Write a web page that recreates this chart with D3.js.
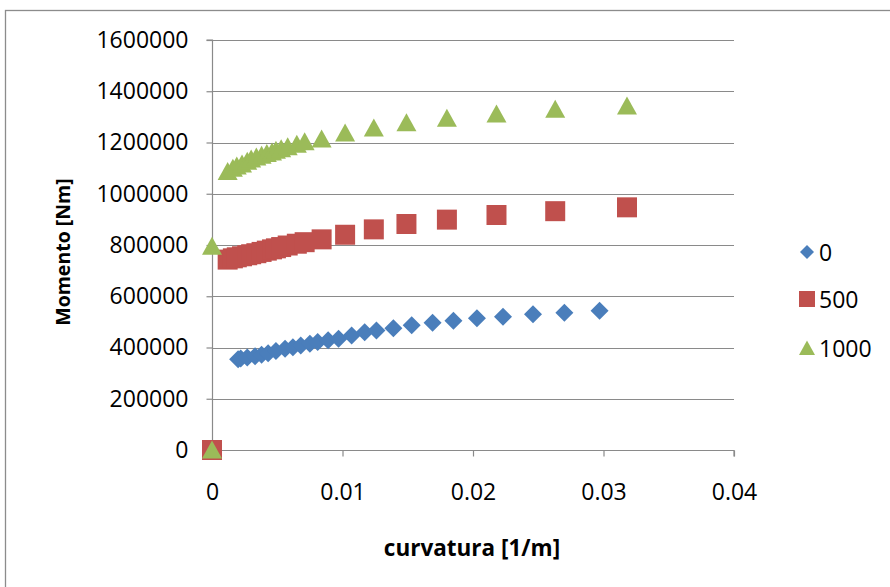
<!DOCTYPE html>
<html><head><meta charset="utf-8">
<script src="https://cdn.jsdelivr.net/npm/d3@7"></script>
<style>
html,body{margin:0;padding:0;background:#fff;}
svg text{font-family:"Open Sans","Noto Sans",sans-serif;fill:#000;}
</style></head>
<body>
<div id="chart"></div>
<script>
// ---- data ----
const seriesNames = ["0", "500", "1000"];
const seriesColors = ["#4A7EBB", "#C0504D", "#9BBB59"];
const seriesShapes = ["diamond", "square", "triangle"];

const curv0 = [0.0020,0.0022,0.0027,0.0033,0.0038,0.0043,0.0049,0.0056,0.0062,0.0068,0.0075,0.0081,0.0089,0.0097,0.0107,0.0117,0.0126,0.0139,0.0153,0.0169,0.0185,0.0203,0.0223,0.0246,0.0270,0.0297];
const mom0  = [354000,357000,361000,366000,372000,378000,386000,395000,401000,408000,415000,421000,428000,434000,447000,460000,466000,475000,487000,497000,504000,514000,520000,530000,536000,543000];

const curv500 = [0,0.0012,0.0016,0.0019,0.0023,0.0027,0.0030,0.0034,0.0038,0.0042,0.0046,0.0049,0.0053,0.0058,0.0065,0.0071,0.0084,0.0102,0.0124,0.0149,0.0180,0.0218,0.0263,0.0318];
const mom500  = [0,743000,748000,752000,756000,760000,764000,768000,773000,778000,783000,787000,792000,798000,805000,811000,822000,840000,861000,882000,899000,917000,932000,947000];

const curv1000 = [0,0,0.0012,0.0016,0.0019,0.0023,0.0027,0.0030,0.0034,0.0038,0.0042,0.0046,0.0049,0.0053,0.0058,0.0065,0.0071,0.0084,0.0102,0.0124,0.0149,0.0180,0.0218,0.0263,0.0318];
const mom1000  = [0,795000,1087000,1100000,1108000,1116000,1127000,1136000,1143000,1150000,1157000,1163000,1170000,1176000,1183000,1193000,1203000,1214000,1237000,1257000,1277000,1295000,1311000,1330000,1342000];

const xTicks = [0, 0.01, 0.02, 0.03, 0.04];
const yTicks = [0,200000,400000,600000,800000,1000000,1200000,1400000,1600000];
const xTitle = "curvatura [1/m]";
const yTitle = "Momento [Nm]";

const series = [
  {name: seriesNames[0], xs: curv0, ys: mom0},
  {name: seriesNames[1], xs: curv500, ys: mom500},
  {name: seriesNames[2], xs: curv1000, ys: mom1000}
];

// ---- layout ----
const W = 890, H = 587;
const svg = d3.select("#chart").append("svg").attr("width", W).attr("height", H);

svg.append("rect").attr("x", 5.5).attr("y", 10.5).attr("width", 1000).attr("height", 1000)
  .attr("fill", "#fff").attr("stroke", "#8c8c8c").attr("stroke-width", 1.3);

const pLeft = 212, pRight = 734, pTop = 40, pBottom = 450;
const x = d3.scaleLinear().domain([0, 0.04]).range([pLeft, pRight]);
const y = d3.scaleLinear().domain([0, 1600000]).range([pBottom, pTop]);

// gridlines
svg.append("g").selectAll("line").data(yTicks).join("line")
  .attr("x1", pLeft).attr("x2", pRight)
  .attr("y1", d => Math.round(y(d)) + 0.5).attr("y2", d => Math.round(y(d)) + 0.5)
  .attr("stroke", "#8a8a8a").attr("stroke-width", 1.2);

// axes
const gx = svg.append("g").attr("transform", `translate(0,${pBottom + 0.5})`)
  .call(d3.axisBottom(x).tickValues(xTicks).tickSize(6).tickPadding(27).tickFormat(d => d === 0 ? "0" : d3.format(".2f")(d)));
const gy = svg.append("g").attr("transform", `translate(${pLeft + 0.5},0)`)
  .call(d3.axisLeft(y).tickValues(yTicks).tickSize(6).tickPadding(18).tickFormat(d3.format("d")));
[gx, gy].forEach(g => {
  g.selectAll("path.domain").attr("stroke", "#8a8a8a").attr("stroke-width", 1.2);
  g.selectAll(".tick line").attr("stroke", "#8a8a8a").attr("stroke-width", 1.2);
  g.selectAll(".tick text").attr("font-size", 23).attr("font-family", "'Open Sans','Noto Sans',sans-serif").attr("fill", "#000");
});
gy.select("path.domain").attr("d", `M-6,${pTop}H0V${pBottom}`);
gx.select("path.domain").attr("d", `M${pLeft},6V0H${pRight}V6`);

// markers
function shapePath(shape) {
  if (shape === "diamond") return "M0,-9L9,0L0,9L-9,0Z";
  if (shape === "square") return "M-10,-10H10V10H-10Z";
  return "M0,-9.5L10,8.5H-10Z";
}
series.forEach((s, i) => {
  const pts = s.xs.map((v, k) => [v, s.ys[k]]);
  svg.append("g").selectAll("path").data(pts).join("path")
    .attr("transform", d => `translate(${x(d[0])},${y(d[1])})`)
    .attr("d", shapePath(seriesShapes[i]))
    .attr("fill", seriesColors[i]);
});

// titles
svg.append("text").attr("x", 472).attr("y", 556).attr("text-anchor", "middle")
  .attr("font-size", 22.5).attr("font-weight", "bold").text(xTitle);
svg.append("text").attr("transform", "translate(70,252) rotate(-90)").attr("text-anchor", "middle")
  .attr("font-size", 19.5).attr("font-weight", "bold").text(yTitle);

// legend
const lg = svg.append("g");
const legendY = [252, 299, 348];
series.forEach((s, i) => {
  lg.append("path").attr("transform", `translate(807,${legendY[i]})`)
    .attr("d", i === 0 ? "M0,-7L7,0L0,7L-7,0Z" : i === 1 ? "M-8,-8H8V8H-8Z" : "M0,-7.5L8,7H-8Z")
    .attr("fill", seriesColors[i]);
  lg.append("text").attr("x", 819).attr("y", legendY[i] + 8.5).attr("font-size", 23).text(s.name);
});
</script>
</body></html>
